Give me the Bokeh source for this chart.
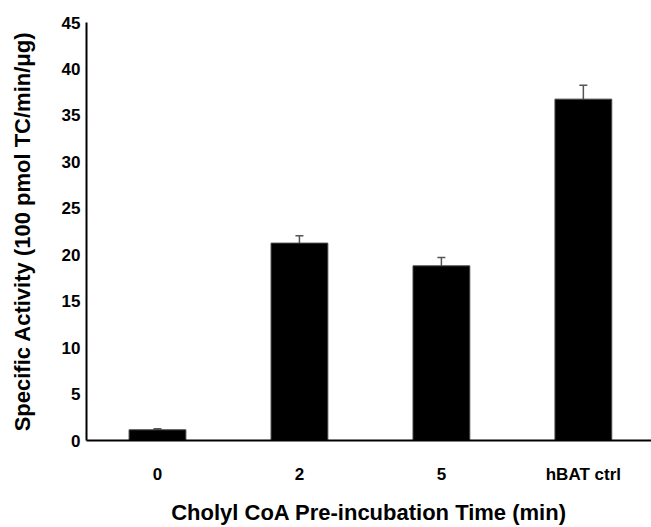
from bokeh.plotting import figure
from bokeh.models import ColumnDataSource, Range1d, FixedTicker, Whisker, TeeHead
from bokeh.embed import file_html
from bokeh.resources import INLINE

categories = ["0", "2", "5", "hBAT ctrl"]
activity = [1.15, 21.25, 18.8, 36.75]
errors = [0.12, 0.8, 0.9, 1.5]
y_ticks = [0, 5, 10, 15, 20, 25, 30, 35, 40, 45]

xs = [i + 0.5 for i in range(len(categories))]
upper = [a + e for a, e in zip(activity, errors)]
src = ColumnDataSource(dict(x=xs, top=activity, upper=upper, base=activity))

FONT = "Liberation Sans"

p = figure(width=651, height=527, output_backend="svg", toolbar_location=None,
           x_range=Range1d(0, 3.98), y_range=Range1d(0, 45),
           min_border_left=86, min_border_top=22, min_border_bottom=86, min_border_right=0)
p.outline_line_color = None
p.grid.visible = False

p.vbar(x="x", top="top", width=0.4, source=src, fill_color="black", line_color="#444444", line_width=1)
w = Whisker(source=src, base="x", lower="base", upper="upper", line_color="#555555", line_width=1.5,
            upper_head=TeeHead(size=8, line_color="#555555", line_width=1.5), lower_head=None)
p.add_layout(w)

p.xaxis.ticker = FixedTicker(ticks=xs)
p.xaxis.major_label_overrides = {x: c for x, c in zip(xs, categories)}
p.yaxis.ticker = FixedTicker(ticks=y_ticks)

for ax in (p.xaxis, p.yaxis):
    ax.major_tick_out = 0
    ax.major_tick_in = 0
    ax.minor_tick_out = 0
    ax.minor_tick_in = 0
    ax.major_label_text_font = FONT
    ax.major_label_text_font_style = "bold"
    ax.major_label_text_font_size = "17px"
    ax.major_label_text_color = "black"
    ax.axis_label_text_font = FONT
    ax.axis_label_text_font_style = "bold"
    ax.axis_label_text_color = "black"
    ax.axis_line_color = "black"
    ax.axis_line_width = 2

p.yaxis.major_label_standoff = 6
p.xaxis.major_label_standoff = 24
p.yaxis.axis_label = "Specific Activity (100 pmol TC/min/\u03bcg)"
p.yaxis.axis_label_text_font_size = "22px"
p.yaxis.axis_label_standoff = 24
p.xaxis.axis_label = "Cholyl CoA Pre-incubation Time (min)"
p.xaxis.axis_label_text_font_size = "22px"
p.xaxis.axis_label_standoff = 13

open("out.html", "w").write(file_html(p, INLINE))
